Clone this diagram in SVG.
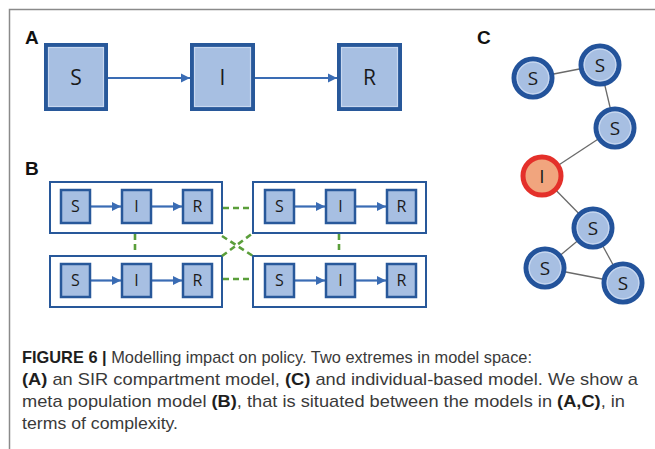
<svg xmlns="http://www.w3.org/2000/svg" width="655" height="449" viewBox="0 0 655 449">
<defs>
<style>
.frame{stroke:#8a8a8a;stroke-width:1.5;fill:none}
.lbl{font-family:"Liberation Sans",Arial,sans-serif;font-weight:bold;font-size:19px;fill:#111}
.boxA{fill:#a7bfe2;stroke:#28589a;stroke-width:4}
.rim{fill:none;stroke:#c8d8f0;stroke-width:1.2}
.txt{font-family:"Open Sans","Noto Sans",sans-serif;fill:#1a1a1a;text-anchor:middle}
.flow{stroke:#3a6cb4;stroke-width:2.2;fill:none}
.outer{fill:none;stroke:#28589a;stroke-width:2}
.boxB{fill:#a7bfe2;stroke:#28589a;stroke-width:2.5}
.dash{stroke:#5a9e3a;stroke-width:2.6;stroke-dasharray:6 4;fill:none}
.edge{stroke:#6a6a6a;stroke-width:1.3}
.cS{fill:#a7bfe2;stroke:#23539b;stroke-width:5}
.cI{fill:#f1a57e;stroke:#e4302a;stroke-width:5}
.crim{fill:none;stroke:#c8d8f0;stroke-width:1.2}
.cap{font-family:"Liberation Sans",Arial,sans-serif;font-size:17px;fill:#3a3a3a}
.b{font-weight:bold;fill:#1e1e1e}
</style>
<marker id="ah" viewBox="0 0 10 10" refX="10" refY="5" markerWidth="4.2" markerHeight="4.2" orient="auto" markerUnits="strokeWidth">
<path d="M0,0 L10,5 L0,10 z" fill="#3a6cb4"/>
</marker>
</defs>
<rect width="655" height="449" fill="#fff"/>
<path class="frame" d="M9.5,449 V9.5 H655"/>

<text class="lbl" x="25" y="44">A</text>
<text class="lbl" x="25" y="175">B</text>
<text class="lbl" x="477" y="44">C</text>

<g id="B-pop1"><rect class="outer" x="50" y="182" width="172" height="51"/></g>
<g id="B-pop2"><rect class="outer" x="253" y="182" width="173" height="51"/></g>
<g id="B-pop3"><rect class="outer" x="50" y="256" width="172" height="51"/></g>
<g id="B-pop4"><rect class="outer" x="253" y="256" width="173" height="51"/></g>

<g id="connectors">
  <line class="flow" x1="108" y1="78" x2="190" y2="78" marker-end="url(#ah)"/>
  <line class="flow" x1="255" y1="78" x2="337" y2="78" marker-end="url(#ah)"/>
  <line class="flow" x1="90" y1="206.5" x2="121" y2="206.5" marker-end="url(#ah)"/>
  <line class="flow" x1="152" y1="206.5" x2="182" y2="206.5" marker-end="url(#ah)"/>
  <line class="flow" x1="90" y1="280.5" x2="121" y2="280.5" marker-end="url(#ah)"/>
  <line class="flow" x1="152" y1="280.5" x2="182" y2="280.5" marker-end="url(#ah)"/>
  <line class="flow" x1="295" y1="206.5" x2="325" y2="206.5" marker-end="url(#ah)"/>
  <line class="flow" x1="356" y1="206.5" x2="386" y2="206.5" marker-end="url(#ah)"/>
  <line class="flow" x1="295" y1="280.5" x2="325" y2="280.5" marker-end="url(#ah)"/>
  <line class="flow" x1="356" y1="280.5" x2="386" y2="280.5" marker-end="url(#ah)"/>
  <line class="dash" x1="223" y1="208" x2="252" y2="208"/>
  <line class="dash" x1="223" y1="279" x2="252" y2="279"/>
  <line class="dash" x1="135" y1="234" x2="135" y2="254"/>
  <line class="dash" x1="339" y1="234" x2="339" y2="254"/>
  <line class="dash" x1="222" y1="236" x2="253" y2="256"/>
  <line class="dash" x1="222" y1="256" x2="253" y2="233"/>
  <line class="edge" x1="533" y1="78" x2="600" y2="65"/>
  <line class="edge" x1="600" y1="65" x2="615" y2="128"/>
  <line class="edge" x1="615" y1="128" x2="542" y2="176"/>
  <line class="edge" x1="542" y1="176" x2="593" y2="228"/>
  <line class="edge" x1="593" y1="228" x2="545" y2="268"/>
  <line class="edge" x1="593" y1="228" x2="623" y2="283"/>
  <line class="edge" x1="545" y1="268" x2="623" y2="283"/>
</g>

<g id="A-S"><rect class="boxA" x="46" y="45" width="60" height="64"/><rect class="rim" x="48.5" y="47.5" width="55" height="59"/><text class="txt" x="76" y="85" font-size="21">S</text></g>
<g id="A-I"><rect class="boxA" x="192" y="45" width="61" height="64"/><rect class="rim" x="194.5" y="47.5" width="56" height="59"/><text class="txt" x="222.5" y="85" font-size="21">I</text></g>
<g id="A-R"><rect class="boxA" x="339" y="45" width="61" height="64"/><rect class="rim" x="341.5" y="47.5" width="56" height="59"/><text class="txt" x="369.5" y="85" font-size="21">R</text></g>

<g id="B1-S"><rect class="boxB" x="61" y="190" width="29" height="33"/><text class="txt" x="75.5" y="212" font-size="16">S</text></g>
<g id="B1-I"><rect class="boxB" x="122" y="190" width="29" height="33"/><text class="txt" x="136.5" y="212" font-size="16">I</text></g>
<g id="B1-R"><rect class="boxB" x="183" y="190" width="29" height="33"/><text class="txt" x="197.5" y="212" font-size="16">R</text></g>
<g id="B2-S"><rect class="boxB" x="265" y="190" width="29" height="33"/><text class="txt" x="279.5" y="212" font-size="16">S</text></g>
<g id="B2-I"><rect class="boxB" x="326" y="190" width="29" height="33"/><text class="txt" x="340.5" y="212" font-size="16">I</text></g>
<g id="B2-R"><rect class="boxB" x="387" y="190" width="29" height="33"/><text class="txt" x="401.5" y="212" font-size="16">R</text></g>
<g id="B3-S"><rect class="boxB" x="61" y="264" width="29" height="33"/><text class="txt" x="75.5" y="286" font-size="16">S</text></g>
<g id="B3-I"><rect class="boxB" x="122" y="264" width="29" height="33"/><text class="txt" x="136.5" y="286" font-size="16">I</text></g>
<g id="B3-R"><rect class="boxB" x="183" y="264" width="29" height="33"/><text class="txt" x="197.5" y="286" font-size="16">R</text></g>
<g id="B4-S"><rect class="boxB" x="265" y="264" width="29" height="33"/><text class="txt" x="279.5" y="286" font-size="16">S</text></g>
<g id="B4-I"><rect class="boxB" x="326" y="264" width="29" height="33"/><text class="txt" x="340.5" y="286" font-size="16">I</text></g>
<g id="B4-R"><rect class="boxB" x="387" y="264" width="29" height="33"/><text class="txt" x="401.5" y="286" font-size="16">R</text></g>

<g id="C-S1"><circle class="cS" cx="533" cy="78" r="19"/><circle class="crim" cx="533" cy="78" r="15.8"/><text class="txt" x="533" y="85" font-size="19">S</text></g>
<g id="C-S2"><circle class="cS" cx="600" cy="65" r="19"/><circle class="crim" cx="600" cy="65" r="15.8"/><text class="txt" x="600" y="72" font-size="19">S</text></g>
<g id="C-S3"><circle class="cS" cx="615" cy="128" r="19"/><circle class="crim" cx="615" cy="128" r="15.8"/><text class="txt" x="615" y="135" font-size="19">S</text></g>
<g id="C-I"><circle class="cI" cx="542" cy="176" r="19"/><text class="txt" x="542" y="183" font-size="19">I</text></g>
<g id="C-S4"><circle class="cS" cx="593" cy="228" r="19"/><circle class="crim" cx="593" cy="228" r="15.8"/><text class="txt" x="593" y="235" font-size="19">S</text></g>
<g id="C-S5"><circle class="cS" cx="545" cy="268" r="19"/><circle class="crim" cx="545" cy="268" r="15.8"/><text class="txt" x="545" y="275" font-size="19">S</text></g>
<g id="C-S6"><circle class="cS" cx="623" cy="283" r="19"/><circle class="crim" cx="623" cy="283" r="15.8"/><text class="txt" x="623" y="290" font-size="19">S</text></g>

<g id="caption">
<text class="cap" x="22" y="363" textLength="510" lengthAdjust="spacingAndGlyphs"><tspan class="b">FIGURE 6 | </tspan>Modelling impact on policy. Two extremes in model space:</text>
<text class="cap" x="22" y="385" textLength="616" lengthAdjust="spacingAndGlyphs"><tspan class="b">(A)</tspan> an SIR compartment model, <tspan class="b">(C)</tspan> and individual-based model. We show a</text>
<text class="cap" x="22" y="407" textLength="603" lengthAdjust="spacingAndGlyphs">meta population model <tspan class="b">(B)</tspan>, that is situated between the models in <tspan class="b">(A,C)</tspan>, in</text>
<text class="cap" x="22" y="429" textLength="156" lengthAdjust="spacingAndGlyphs">terms of complexity.</text>
</g>
</svg>
